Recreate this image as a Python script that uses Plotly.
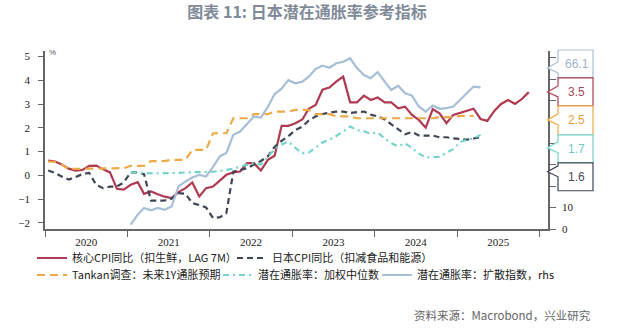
import pandas as pd
import plotly.graph_objects as go

# ---------------- data ----------------
month_start = "2020-01-01"
n_months = 71

core_cpi_lag7m = [
    0.62, 0.58, 0.45, 0.28, 0.20, 0.23, 0.40, 0.41, 0.25, 0.12,
    -0.57, -0.60, -0.40, -0.29, -0.78, -0.68, -0.80, -0.90, -0.96, -0.71,
    -0.54, -0.30, -0.89, -0.54, -0.47, -0.23, 0.02, 0.12, 0.16, 0.51,
    0.51, 0.20, 0.65, 0.82, 2.08, 2.08, 2.19, 2.35, 2.80, 2.96,
    3.60, 3.69, 3.94, 4.15, 3.07, 3.07, 3.35, 3.17, 3.27, 3.07,
    3.07, 2.82, 2.89, 2.54, 2.33, 2.00, 2.78, 2.61, 2.19, 2.54,
    2.64, 2.71, 2.80, 2.37, 2.29, 2.71, 3.00, 3.17, 3.00, 3.21, 3.50,
]

cpi_ex_food_energy = [
    0.20, 0.10, -0.05, -0.18, -0.08, 0.05, 0.10, -0.40, -0.54, -0.48,
    -0.47, -0.30, 0.12, 0.12, 0.05, -1.07, -1.07, -1.06, -0.99, -0.75,
    -0.78, -1.17, -1.25, -1.35, -1.80, -1.76, -1.59, 0.15, 0.22, 0.30,
    0.45, 0.60, 0.80, 1.20, 1.45, 1.65, 1.90, 2.05, 2.30, 2.48,
    2.58, 2.64, 2.68, 2.68, 2.62, 2.66, 2.68, 2.55, 2.48, 2.35,
    2.15, 1.95, 1.73, 1.82, 1.68, 1.67, 1.67, 1.60, 1.60, 1.55,
    1.52, 1.50, 1.55, 1.60,
]

tankan_1y = [
    0.58, 0.56, 0.45, 0.27, 0.27, 0.27, 0.30, 0.30, 0.30, 0.30, 0.30, 0.30,
    0.40, 0.40, 0.40, 0.60, 0.60, 0.60, 0.65, 0.65, 0.65, 1.07, 1.07, 1.07,
    1.77, 1.77, 1.77, 2.40, 2.40, 2.40, 2.57, 2.57, 2.57, 2.68, 2.68, 2.68,
    2.75, 2.75, 2.75, 2.57, 2.57, 2.57, 2.48, 2.48, 2.48, 2.40, 2.40, 2.40,
    2.40, 2.40, 2.40, 2.40, 2.40, 2.40, 2.40, 2.40, 2.40, 2.45, 2.45, 2.45,
    2.50, 2.50, 2.50,
]

weighted_median = [
    0.12, 0.12, 0.10, 0.08, 0.08, 0.08, 0.08, 0.10, 0.12, 0.12,
    0.12, 0.12, 0.15, 0.18, 0.22, 0.28, 0.37, 0.45, 0.51, 0.45,
    0.80, 1.10, 1.30, 1.42, 1.15, 0.93, 0.95, 1.15, 1.38, 1.50,
    1.65, 1.85, 2.05, 1.90, 1.85, 1.75, 1.80, 1.55, 1.35, 1.22,
    1.35, 1.15, 0.92, 0.75, 0.75, 0.78, 0.95, 1.10, 1.40, 1.50,
    1.55, 1.70,
]

diffusion_index = [
    2.0, 6.7, 9.8, 8.7, 9.8, 9.0, 10.5, 19.9, 22.2, 24.0,
    25.3, 24.5, 29.0, 34.0, 35.5, 44.0, 45.5, 49.0, 52.5, 52.0,
    57.0, 63.0, 65.5, 69.5, 68.0, 68.8, 71.1, 74.7, 76.3, 75.3,
    77.4, 78.1, 79.7, 75.1, 71.9, 70.4, 73.2, 68.8, 64.9, 66.9,
    63.4, 62.3, 57.2, 54.8, 57.6, 56.1, 56.4, 57.2, 60.3, 63.4,
    66.5, 66.1,
]
underlying_start = 12  # series begin in Jan 2021

names = [
    "核心CPI同比（扣生鲜，LAG 7M）",
    "日本CPI同比（扣减食品和能源）",
    "Tankan调查：未来1Y通胀预期",
    "潜在通胀率：加权中位数",
    "潜在通胀率：扩散指数，rhs",
]
title_text = "图表 11: 日本潜在通胀率参考指标"
source_text = "资料来源：Macrobond，兴业研究"

# ---------------- styling ----------------
C_RED = "#b03a52"
C_DARK = "#3e4654"
C_ORANGE = "#eeaa46"
C_TEAL = "#72d4cb"
C_BLUE = "#a7bfd6"
AXIS_C = "#666666"

dates = pd.date_range(month_start, periods=n_months, freq="MS") + pd.Timedelta(days=14)
d_main = dates
d_dark = dates[: len(cpi_ex_food_energy)]
d_tank = dates[: len(tankan_1y)]
d_und = dates[underlying_start: underlying_start + len(weighted_median)]

fig = go.Figure()
fig.add_trace(go.Scatter(x=d_main, y=core_cpi_lag7m, name=names[0], mode="lines",
                         line=dict(color=C_RED, width=2.2), legend="legend"))
fig.add_trace(go.Scatter(x=d_dark, y=cpi_ex_food_energy, name=names[1], mode="lines",
                         line=dict(color=C_DARK, width=2.2, dash="6px,4px"), legend="legend2"))
fig.add_trace(go.Scatter(x=d_tank, y=tankan_1y, name=names[2], mode="lines",
                         line=dict(color=C_ORANGE, width=2.2, dash="8px,5px"), legend="legend3"))
fig.add_trace(go.Scatter(x=d_und, y=weighted_median, name=names[3], mode="lines",
                         line=dict(color=C_TEAL, width=2.2, dash="6px,4px,2px,4px"), legend="legend4"))
fig.add_trace(go.Scatter(x=d_und, y=diffusion_index, name=names[4], mode="lines",
                         line=dict(color=C_BLUE, width=2.2), yaxis="y2", legend="legend5"))

W, H = 618, 328
PL, PR, PT, PB = 45, 548, 51, 229.3


def px_x(px):
    return (px - PL) / (PR - PL)


def px_y(py):
    return (PB - py) / (PB - PT)


tick_font = dict(family="Liberation Serif", size=11, color="#222222")
legend_font = dict(family="Noto Sans CJK SC", size=11, color="#222222")


def legend_at(text_x, row_y):
    return dict(orientation="h", xref="container", yref="container",
                x=(text_x - 40) / W, y=1 - row_y / H, xanchor="left", yanchor="middle",
                font=legend_font, itemwidth=30, bgcolor="rgba(0,0,0,0)",
                borderwidth=0, tracegroupgap=0, itemclick=False, itemdoubleclick=False)


fig.update_layout(
    width=W, height=H, autosize=False,
    margin=dict(l=PL, r=W - PR, t=PT, b=H - PB, pad=0, autoexpand=False),
    paper_bgcolor="white", plot_bgcolor="white",
    title=dict(text="<b>" + title_text + "</b>", x=307 / W, xref="container", xanchor="center",
               y=1 - 12 / H, yref="container", yanchor="middle",
               font=dict(family="Noto Sans CJK SC", size=16, color="#7f8b99")),
    xaxis=dict(type="date", range=["2020-01-01", "2026-02-08"], dtick="M12", tick0="2020-01-01",
               tickformat="%Y", ticklabelmode="period", ticks="outside", ticklen=6,
               tickcolor=AXIS_C, showline=True, linecolor=AXIS_C, linewidth=1.5,
               showgrid=False, zeroline=False, tickfont=tick_font, ticklabelstandoff=-4),
    yaxis=dict(range=[-2.26, 5.23], dtick=1, tick0=0, ticks="outside", ticklen=5,
               tickcolor=AXIS_C, showline=True, linecolor=AXIS_C, linewidth=1.5,
               showgrid=False, zeroline=False, tickfont=tick_font, ticklabelstandoff=6),
    yaxis2=dict(overlaying="y", side="right", range=[0, 83.1],
                tickvals=[0, 10, 20, 30, 40, 50, 60, 70, 80],
                ticktext=["0", "10", "", "", "", "", "", "", ""],
                ticks="outside", ticklen=6, tickcolor=AXIS_C, showline=True,
                linecolor=AXIS_C, linewidth=1.5, showgrid=False, zeroline=False,
                tickfont=tick_font, ticklabelstandoff=4),
    legend=legend_at(72, 258),
    legend2=legend_at(272, 258),
    legend3=legend_at(72, 275),
    legend4=legend_at(258, 275),
    legend5=legend_at(417, 275),
    showlegend=True,
)

# ---- last-value tags on the right ----
tags = [
    (f"{diffusion_index[-1]:.1f}", C_BLUE, "#9fb3c8", 50, 78, 68),
    (f"{core_cpi_lag7m[-1]:.1f}", C_RED, "#a8455a", 78, 106, 92),
    (f"{tankan_1y[-1]:.1f}", C_ORANGE, "#e59f3a", 106, 135, 120),
    (f"{weighted_median[-1]:.1f}", C_TEAL, "#6fcdc4", 135, 163, 148),
    (f"{cpi_ex_food_energy[-1]:.1f}", C_DARK, "#444a55", 163, 191, 172),
]
shapes = []
annotations = []
bx0, bx1, apex_x = 558, 593, 547.5
for text, border, tcol, yt, yb, ay in tags:
    n1, n2 = ay - 6, ay + 5
    pts = [(bx0, yt), (bx1, yt), (bx1, yb), (bx0, yb), (bx0, n2), (apex_x, ay), (bx0, n1)]
    path = "M " + " L ".join(f"{px_x(a):.5f},{px_y(b):.5f}" for a, b in pts) + " Z"
    shapes.append(dict(type="path", path=path, xref="paper", yref="paper",
                       fillcolor="white", line=dict(color=border, width=1.2), layer="above"))
    annotations.append(dict(text=text, x=px_x((bx0 + bx1) / 2 + 1), y=px_y((yt + yb) / 2),
                            xref="paper", yref="paper", xanchor="center", yanchor="middle",
                            showarrow=False,
                            font=dict(family="Liberation Sans", size=12, color=tcol)))

annotations.append(dict(text="%", x=px_x(47), y=px_y(53), xref="paper", yref="paper",
                        xanchor="left", yanchor="middle", showarrow=False,
                        font=dict(family="Liberation Sans", size=8, color="#555555")))
annotations.append(dict(text=source_text, x=px_x(593), y=px_y(315), xref="paper",
                        yref="paper", xanchor="right", yanchor="middle", showarrow=False,
                        font=dict(family="Noto Sans CJK SC", size=11.5, color="#666666")))

fig.update_layout(shapes=shapes, annotations=annotations)
fig.write_html("out.html")
